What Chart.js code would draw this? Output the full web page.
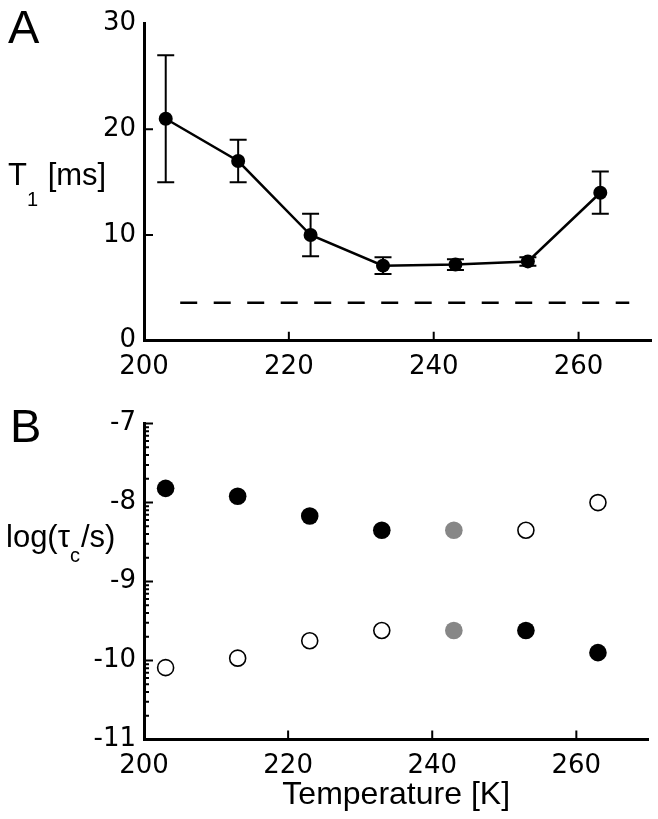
<!DOCTYPE html>
<html lang="en">
<head>
    <meta charset="UTF-8">
    <title>T1 and correlation times vs temperature</title>
    <script src="https://cdn.jsdelivr.net/npm/chart.js"></script>
    <style>
        body {
            margin: 0;
            padding: 0;
            background-color: #fff;
        }

        #wrap {
            position: relative;
            width: 658px;
            height: 819px;
        }

        #wrap canvas {
            position: absolute;
            left: 0;
        }

        #chartA { top: 0; }
        #chartB { top: 400px; }
    </style>
</head>
<body>
    <div id="wrap">
        <canvas id="chartA" width="658" height="400"></canvas>
        <canvas id="chartB" width="658" height="419"></canvas>
    </div>

    <script>
        // Panel A: T1 vs temperature
        const temps = [203, 213, 223, 233, 243, 253, 263];
        const t1 = [21, 17, 10, 7.1, 7.2, 7.5, 14];
        const t1Err = [6, 2, 2, 0.8, 0.5, 0.4, 2];
        const t1Limit = 3.6;
        const limitRange = [205, 267];

        // Panel B: log(tau_c/s), two solutions per temperature
        const tauUpper = [-7.82, -7.92, -8.17, -8.35, -8.35, -8.35, -8.0];
        const tauLower = [-10.09, -9.97, -9.75, -9.62, -9.62, -9.62, -9.9];
        const kindUpper = ['filled', 'filled', 'filled', 'filled', 'gray', 'open', 'open'];
        const kindLower = ['open', 'open', 'open', 'open', 'gray', 'filled', 'filled'];

        const xTicks = { min: 200, max: 270, step: 20 };

        const sans = '"Liberation Sans", Arial, sans-serif';
        const tickFont = { family: 'DejaVu Sans', size: 26 };

        // ticks pointing into the plot, plus log-decade minor ticks when asked
        const innerTicks = {
            id: 'innerTicks',
            afterDatasetsDraw(chart, args, opts) {
                const ctx = chart.ctx;
                const xs = chart.scales.x, ys = chart.scales.y;
                const area = chart.chartArea;
                ctx.save();
                ctx.strokeStyle = '#000';
                ctx.lineWidth = 2;
                ctx.beginPath();
                xs.ticks.forEach(t => {
                    if (t.value <= xs.min) return;
                    const px = xs.getPixelForValue(t.value);
                    ctx.moveTo(px, area.bottom);
                    ctx.lineTo(px, area.bottom - opts.major);
                });
                ys.ticks.forEach(t => {
                    if (t.value <= ys.min) return;
                    if (opts.skipTop && t.value >= ys.max) return;
                    const py = ys.getPixelForValue(t.value);
                    ctx.moveTo(area.left, py);
                    ctx.lineTo(area.left + opts.major, py);
                });
                if (opts.logMinor) {
                    for (let d = Math.floor(ys.min); d < ys.max; d++) {
                        for (let k = 2; k <= 9; k++) {
                            const py = ys.getPixelForValue(d + Math.log10(k));
                            ctx.moveTo(area.left, py);
                            ctx.lineTo(area.left + opts.minor, py);
                        }
                    }
                }
                ctx.stroke();
                ctx.restore();
            }
        };

        // error bars for panel A, drawn under the markers
        const errorBars = {
            id: 'errorBars',
            beforeDatasetsDraw(chart, args, opts) {
                if (!opts.errors) return;
                const ctx = chart.ctx;
                const xs = chart.scales.x, ys = chart.scales.y;
                ctx.save();
                ctx.strokeStyle = '#000';
                ctx.lineWidth = 2;
                ctx.beginPath();
                opts.values.forEach((v, i) => {
                    const px = xs.getPixelForValue(opts.xs[i]);
                    const top = ys.getPixelForValue(v + opts.errors[i]);
                    const bot = ys.getPixelForValue(v - opts.errors[i]);
                    ctx.moveTo(px, top);
                    ctx.lineTo(px, bot);
                    ctx.moveTo(px - opts.cap, top);
                    ctx.lineTo(px + opts.cap, top);
                    ctx.moveTo(px - opts.cap, bot);
                    ctx.lineTo(px + opts.cap, bot);
                });
                ctx.stroke();
                ctx.restore();
            }
        };

        // panel letter and y-axis title with subscript
        const panelText = {
            id: 'panelText',
            afterDraw(chart, args, opts) {
                const ctx = chart.ctx;
                ctx.save();
                ctx.fillStyle = '#000';
                ctx.textBaseline = 'alphabetic';
                ctx.textAlign = 'left';
                ctx.font = '47px ' + sans;
                ctx.fillText(opts.letter, opts.letterX, opts.letterY);
                let x = opts.titleX;
                opts.title.forEach(part => {
                    ctx.font = (part.sub ? '20px ' : '31px ') + sans;
                    const y = opts.titleY + (part.sub ? opts.subShift : 0);
                    ctx.fillText(part.text, x, y);
                    x += ctx.measureText(part.text).width + (part.sub ? 1 : 0);
                });
                ctx.restore();
            }
        };

        function xScale(height, withTitle) {
            return {
                type: 'linear',
                min: xTicks.min,
                max: xTicks.max,
                grid: { display: false, drawTicks: false },
                border: { display: true, color: '#000', width: 3 },
                ticks: {
                    stepSize: xTicks.step,
                    includeBounds: false,
                    color: '#000',
                    font: tickFont,
                    padding: 11
                },
                title: {
                    display: withTitle,
                    text: 'Temperature [K]',
                    color: '#000',
                    font: { family: sans, size: 32 },
                    padding: { top: 0, bottom: 5 }
                },
                afterFit: s => { s.height = height; }
            };
        }

        function yScale(min, max, step) {
            return {
                type: 'linear',
                min: min,
                max: max,
                grid: { display: false, drawTicks: false },
                border: { display: true, color: '#000', width: 3 },
                ticks: {
                    stepSize: step,
                    color: '#000',
                    font: tickFont,
                    padding: 8
                },
                afterFit: s => { s.width = 144; }
            };
        }

        const commonLayout = { padding: { top: 19.5, right: 6, left: 0, bottom: 0 } };

        new Chart(document.getElementById('chartA'), {
            type: 'line',
            data: {
                datasets: [{
                    data: temps.map((t, i) => ({ x: t, y: t1[i] })),
                    borderColor: '#000',
                    borderWidth: 2.5,
                    pointRadius: 7,
                    pointBackgroundColor: '#000',
                    pointBorderColor: '#000',
                    pointBorderWidth: 0,
                    tension: 0,
                    clip: false
                }, {
                    data: limitRange.map(t => ({ x: t, y: t1Limit })),
                    borderColor: '#000',
                    borderWidth: 2.5,
                    borderDash: [17, 16.5],
                    pointRadius: 0,
                    clip: false
                }]
            },
            options: {
                responsive: false,
                animation: false,
                events: [],
                layout: commonLayout,
                scales: {
                    x: xScale(59.3, false),
                    y: yScale(0, 30, 10)
                },
                plugins: {
                    legend: { display: false },
                    tooltip: { enabled: false },
                    innerTicks: { major: 9, minor: 5, logMinor: false, skipTop: true },
                    errorBars: { xs: temps, values: t1, errors: t1Err, cap: 8.5 },
                    panelText: {
                        letter: 'A', letterX: 8, letterY: 43,
                        title: [{ text: 'T' }, { text: '1', sub: true }, { text: ' [ms]' }],
                        titleX: 8, titleY: 185, subShift: 21
                    }
                }
            },
            plugins: [errorBars, innerTicks, panelText]
        });

        const fillOf = { filled: '#000', open: '#fff', gray: '#878787' };
        const edgeOf = { filled: '#000', open: '#000', gray: '#878787' };

        function tauSet(values, kinds) {
            return {
                data: temps.map((t, i) => ({ x: t, y: values[i] })),
                showLine: false,
                pointRadius: kinds.map(k => k === 'open' ? 8 : 8.8),
                pointBorderWidth: kinds.map(k => k === 'open' ? 1.6 : 0),
                pointBackgroundColor: kinds.map(k => fillOf[k]),
                pointBorderColor: kinds.map(k => edgeOf[k]),
                clip: false
            };
        }

        new Chart(document.getElementById('chartB'), {
            type: 'scatter',
            data: {
                datasets: [tauSet(tauUpper, kindUpper), tauSet(tauLower, kindLower)]
            },
            options: {
                responsive: false,
                animation: false,
                events: [],
                layout: commonLayout,
                scales: {
                    x: xScale(79.5, true),
                    y: yScale(-11, -7, 1)
                },
                plugins: {
                    legend: { display: false },
                    tooltip: { enabled: false },
                    innerTicks: { major: 9, minor: 5, logMinor: true, skipTop: false },
                    panelText: {
                        letter: 'B', letterX: 10, letterY: 42,
                        title: [{ text: 'log(τ' }, { text: 'c', sub: true }, { text: '/s)' }],
                        titleX: 6, titleY: 147, subShift: 15
                    }
                }
            },
            plugins: [innerTicks, panelText]
        });
    </script>
</body>
</html>
